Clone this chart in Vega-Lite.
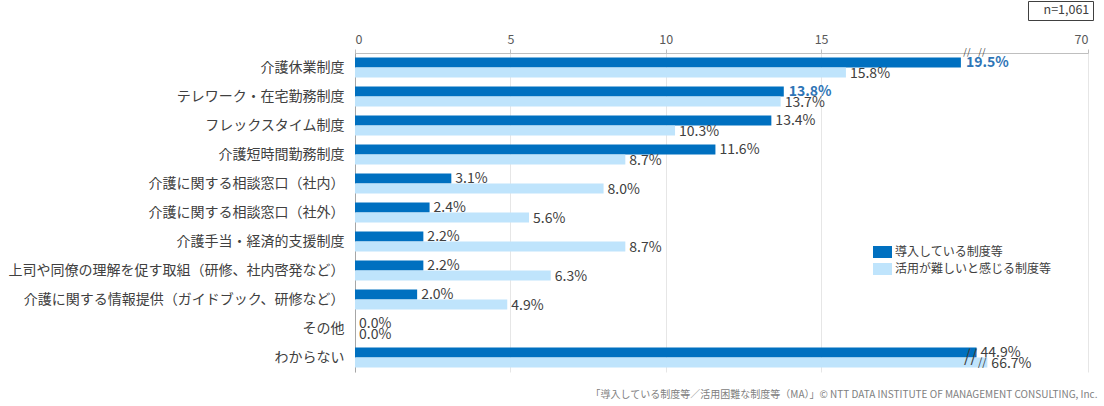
{
  "$schema": "https://vega.github.io/schema/vega-lite/v6.json",
  "width": 733,
  "height": 319,
  "autosize": {"type": "none"},
  "padding": {"left": 355, "top": 53, "right": 16, "bottom": 34},
  "data": {
    "values": [
      {"item": "介護休業制度", "series": "導入している制度等", "value": 19.5, "label": "19.5%"},
      {"item": "介護休業制度", "series": "活用が難しいと感じる制度等", "value": 15.8, "label": "15.8%"},
      {"item": "テレワーク・在宅勤務制度", "series": "導入している制度等", "value": 13.8, "label": "13.8%"},
      {"item": "テレワーク・在宅勤務制度", "series": "活用が難しいと感じる制度等", "value": 13.7, "label": "13.7%"},
      {"item": "フレックスタイム制度", "series": "導入している制度等", "value": 13.4, "label": "13.4%"},
      {"item": "フレックスタイム制度", "series": "活用が難しいと感じる制度等", "value": 10.3, "label": "10.3%"},
      {"item": "介護短時間勤務制度", "series": "導入している制度等", "value": 11.6, "label": "11.6%"},
      {"item": "介護短時間勤務制度", "series": "活用が難しいと感じる制度等", "value": 8.7, "label": "8.7%"},
      {"item": "介護に関する相談窓口（社内）", "series": "導入している制度等", "value": 3.1, "label": "3.1%"},
      {"item": "介護に関する相談窓口（社内）", "series": "活用が難しいと感じる制度等", "value": 8.0, "label": "8.0%"},
      {"item": "介護に関する相談窓口（社外）", "series": "導入している制度等", "value": 2.4, "label": "2.4%"},
      {"item": "介護に関する相談窓口（社外）", "series": "活用が難しいと感じる制度等", "value": 5.6, "label": "5.6%"},
      {"item": "介護手当・経済的支援制度", "series": "導入している制度等", "value": 2.2, "label": "2.2%"},
      {"item": "介護手当・経済的支援制度", "series": "活用が難しいと感じる制度等", "value": 8.7, "label": "8.7%"},
      {"item": "上司や同僚の理解を促す取組（研修、社内啓発など）", "series": "導入している制度等", "value": 2.2, "label": "2.2%"},
      {"item": "上司や同僚の理解を促す取組（研修、社内啓発など）", "series": "活用が難しいと感じる制度等", "value": 6.3, "label": "6.3%"},
      {"item": "介護に関する情報提供（ガイドブック、研修など）", "series": "導入している制度等", "value": 2.0, "label": "2.0%"},
      {"item": "介護に関する情報提供（ガイドブック、研修など）", "series": "活用が難しいと感じる制度等", "value": 4.9, "label": "4.9%"},
      {"item": "その他", "series": "導入している制度等", "value": 0.0, "label": "0.0%"},
      {"item": "その他", "series": "活用が難しいと感じる制度等", "value": 0.0, "label": "0.0%"},
      {"item": "わからない", "series": "導入している制度等", "value": 44.9, "label": "44.9%"},
      {"item": "わからない", "series": "活用が難しいと感じる制度等", "value": 66.7, "label": "66.7%"}
    ]
  },
  "encoding": {
    "y": {
      "field": "item",
      "type": "nominal",
      "sort": null,
      "scale": {"paddingInner": 0.31, "paddingOuter": 0.155},
      "axis": {
        "title": "「導入している制度等／活用困難な制度等（MA）」© NTT DATA INSTITUTE OF MANAGEMENT CONSULTING, Inc.",
        "titleAngle": 0,
        "titleX": 742,
        "titleY": 341,
        "titleAlign": "right",
        "titleBaseline": "middle",
        "titleFontSize": 10,
        "titleFontWeight": "normal",
        "titleColor": "#808080",
        "ticks": false,
        "domainColor": "#a6a6a6",
        "labelFontSize": 14,
        "labelColor": "#404040",
        "labelPadding": 11,
        "labelLimit": 400
      }
    },
    "yOffset": {
      "field": "series",
      "type": "nominal",
      "sort": ["導入している制度等", "活用が難しいと感じる制度等"],
      "scale": {"paddingInner": 0, "paddingOuter": 0}
    },
    "x": {
      "field": "value",
      "type": "quantitative",
      "scale": {"domain": [0, 19.6, 68, 70], "range": [0, 609, 633, 733], "nice": false, "zero": false},
      "axis": {
        "orient": "top",
        "title": null,
        "values": [0, 5, 10, 15, 70],
        "grid": true,
        "gridColor": "#e6e6e6",
        "domainColor": "#bfbfbf",
        "tickColor": "#bfbfbf",
        "tickSize": 4,
        "labelColor": "#595959",
        "labelFontSize": 12.5,
        "labelPadding": 3
      }
    }
  },
  "layer": [
    {
      "mark": {"type": "bar"},
      "encoding": {
        "color": {
          "field": "series",
          "type": "nominal",
          "sort": ["導入している制度等", "活用が難しいと感じる制度等"],
          "scale": {"domain": ["導入している制度等", "活用が難しいと感じる制度等"], "range": ["#0070C0", "#BFE4FC"]},
          "legend": {
            "title": null,
            "orient": "none",
            "legendX": 518,
            "legendY": 189.5,
            "padding": 0,
            "symbolType": "M-1,-0.63H1V0.63H-1Z",
            "symbolSize": 361,
            "symbolStrokeWidth": 0,
            "labelFontSize": 12,
            "labelColor": "#404040",
            "labelOffset": 3,
            "rowPadding": 1
          }
        }
      }
    },
    {
      "transform": [{"filter": "!(datum.series === '導入している制度等' && (datum.item === '介護休業制度' || datum.item === 'テレワーク・在宅勤務制度'))"}],
      "mark": {"type": "text", "align": "left", "baseline": "middle", "dx": 4, "dy": 1, "fontSize": 14, "color": "#404040"},
      "encoding": {"text": {"field": "label"}}
    },
    {
      "transform": [{"filter": "datum.series === '導入している制度等' && (datum.item === '介護休業制度' || datum.item === 'テレワーク・在宅勤務制度')"}],
      "mark": {"type": "text", "align": "left", "baseline": "middle", "dx": 5, "dy": 1, "fontSize": 14, "fontWeight": "bold", "color": "#2E75B6"},
      "encoding": {"text": {"field": "label"}}
    },
    {
      "transform": [{"filter": "datum.series === '導入している制度等' && datum.item === 'わからない'"}],
      "mark": {"type": "text", "align": "center", "baseline": "middle", "dx": -6, "dy": 5, "fontSize": 17, "color": "#404040", "text": "//"},
      "encoding": {
        "opacity": {
          "datum": "n=1,061",
          "type": "ordinal",
          "scale": {"type": "ordinal", "range": [1]},
          "legend": {
            "title": null,
            "orient": "none",
            "legendX": 673,
            "legendY": -52,
            "padding": 3,
            "strokeColor": "#404040",
            "symbolSize": 0,
            "symbolOpacity": 0,
            "symbolFillColor": "transparent",
            "symbolStrokeColor": "transparent",
            "symbolStrokeWidth": 0,
            "labelOffset": 0,
            "labelFontSize": 12.5,
            "labelColor": "#404040"
          }
        }
      }
    },
    {
      "transform": [{"filter": "datum.series === '活用が難しいと感じる制度等' && datum.item === 'わからない'"}],
      "mark": {"type": "text", "align": "center", "baseline": "middle", "dx": -5, "dy": 0, "fontSize": 11, "color": "#404040", "text": "//"}
    },
    {
      "transform": [{"filter": "datum.series === '導入している制度等' && datum.item === '介護休業制度'"}],
      "mark": {"type": "text", "align": "center", "baseline": "middle", "dx": 6, "dy": -10, "fontSize": 9, "color": "#404040", "text": "//"}
    },
    {
      "transform": [{"filter": "datum.series === '導入している制度等' && datum.item === '介護休業制度'"}],
      "mark": {"type": "text", "align": "center", "baseline": "middle", "dx": 21, "dy": -10, "fontSize": 9, "color": "#404040", "text": "//"}
    }
  ],
  "config": {
    "font": "Noto Sans CJK JP",
    "view": {"stroke": null},
    "background": "#ffffff"
  }
}
